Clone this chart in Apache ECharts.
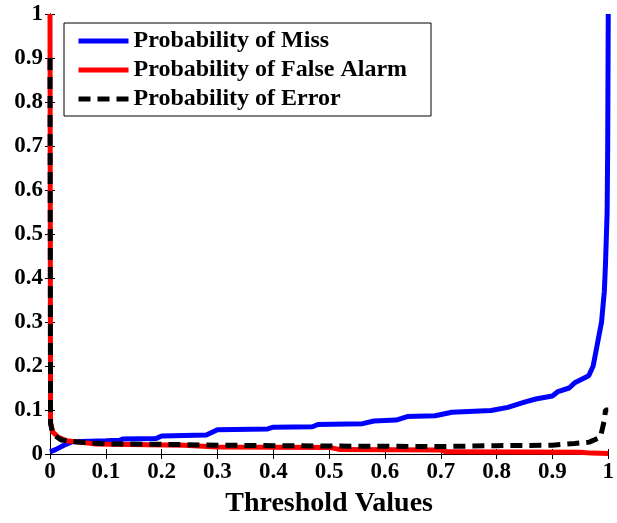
<!DOCTYPE html>
<html>
<head>
<meta charset="utf-8">
<script src="https://cdn.jsdelivr.net/npm/echarts@6/dist/echarts.min.js"></script>
<style>
  html, body { margin: 0; padding: 0; background: #fff; }
  #main { width: 617px; height: 523px; }
</style>
</head>
<body>
<div id="main"></div>
<script>
// 数据
var missX = [0, 0.01, 0.025, 0.04, 0.1, 0.125, 0.13, 0.19, 0.2, 0.28, 0.3, 0.39, 0.4, 0.47, 0.48, 0.56, 0.58, 0.62, 0.64, 0.69, 0.72, 0.79, 0.82, 0.85, 0.87, 0.9, 0.91, 0.93, 0.94, 0.965, 0.973, 0.979, 0.988, 0.993, 0.995, 0.998, 0.999, 1];
var missY = [0.005, 0.01, 0.02, 0.028, 0.03, 0.031, 0.034, 0.035, 0.041, 0.043, 0.055, 0.057, 0.061, 0.062, 0.067, 0.069, 0.075, 0.077, 0.085, 0.087, 0.095, 0.099, 0.106, 0.118, 0.125, 0.132, 0.142, 0.15, 0.162, 0.178, 0.2, 0.24, 0.3, 0.37, 0.43, 0.55, 0.7, 1];

var faX = [0, 0.001, 0.005, 0.015, 0.03, 0.08, 0.24, 0.3, 0.5, 0.52, 0.7, 0.71, 0.95, 0.97, 1];
var faY = [1, 0.07, 0.05, 0.038, 0.03, 0.023, 0.02, 0.016, 0.015, 0.01, 0.009, 0.005, 0.004, 0.002, 0.001];

var errX = [0, 0.001, 0.005, 0.02, 0.05, 0.1, 0.2, 0.3, 0.5, 0.7, 0.8, 0.9, 0.94, 0.966, 0.986, 0.993, 0.995, 1];
var errY = [0.9, 0.07, 0.045, 0.032, 0.027, 0.023, 0.022, 0.02, 0.018, 0.017, 0.019, 0.02, 0.024, 0.027, 0.038, 0.077, 0.1, 0.1];

var xTicks = [0, 0.1, 0.2, 0.3, 0.4, 0.5, 0.6, 0.7, 0.8, 0.9, 1];

function pairs(xs, ys) {
    var out = [];
    for (var i = 0; i < xs.length; i++) {
        out.push([xs[i], ys[i]]);
    }
    return out;
}

var font = 'Liberation Serif, Times New Roman, serif';
var chart = echarts.init(document.getElementById('main'));

var plainAxis = {
    type: 'value',
    min: 0,
    max: 1,
    interval: 0.1,
    axisLine: { show: true, lineStyle: { color: '#000', width: 1 } },
    axisTick: { show: true, inside: true, length: 5, lineStyle: { color: '#000' } },
    splitLine: { show: false }
};

function lab(v) {
    var r = Math.round(v * 10) / 10;
    return xTicks.indexOf(r) >= 0 ? String(r) : '';
}

var option = {
    animation: false,
    backgroundColor: '#fff',
    grid: { left: 50, right: 5, top: 14, bottom: 66 },
    legend: {
        orient: 'vertical',
        left: 64,
        top: 23,
        padding: [6, 24, 5, 12],
        itemGap: 5,
        itemWidth: 50,
        itemHeight: 24,
        borderColor: '#000',
        borderWidth: 1,
        backgroundColor: '#fff',
        itemStyle: { opacity: 0 },
        lineStyle: { width: 5 },
        textStyle: { fontFamily: font, fontWeight: 'bold', fontSize: 24, color: '#000' },
        data: ['Probability of Miss', 'Probability of False Alarm', 'Probability of Error']
    },
    xAxis: [
        Object.assign({}, plainAxis, {
            position: 'bottom',
            name: 'Threshold Values',
            nameLocation: 'middle',
            nameGap: 36,
            nameTextStyle: { fontFamily: font, fontWeight: 'bold', fontSize: 28, color: '#000' },
            axisLabel: { margin: 7, fontFamily: font, fontWeight: 'bold', fontSize: 23, color: '#000', formatter: lab }
        }),
        Object.assign({}, plainAxis, { position: 'top', axisLabel: { show: false } })
    ],
    yAxis: [
        Object.assign({}, plainAxis, {
            position: 'left',
            axisLabel: { margin: 7, fontFamily: font, fontWeight: 'bold', fontSize: 23, color: '#000', formatter: lab }
        }),
        Object.assign({}, plainAxis, { position: 'right', axisLabel: { show: false } })
    ],
    series: [
        {
            name: 'Probability of Miss',
            type: 'line',
            symbol: 'none',
            data: pairs(missX, missY),
            lineStyle: { color: '#0000ff', width: 5 },
            itemStyle: { color: '#0000ff' }
        },
        {
            name: 'Probability of False Alarm',
            type: 'line',
            symbol: 'none',
            data: pairs(faX, faY),
            lineStyle: { color: '#ff0000', width: 5 },
            itemStyle: { color: '#ff0000' }
        },
        {
            name: 'Probability of Error',
            type: 'line',
            symbol: 'none',
            data: pairs(errX, errY),
            lineStyle: { color: '#000', width: 5, type: [12, 7] },
            itemStyle: { color: '#000' }
        }
    ]
};

chart.setOption(option);
</script>
</body>
</html>
